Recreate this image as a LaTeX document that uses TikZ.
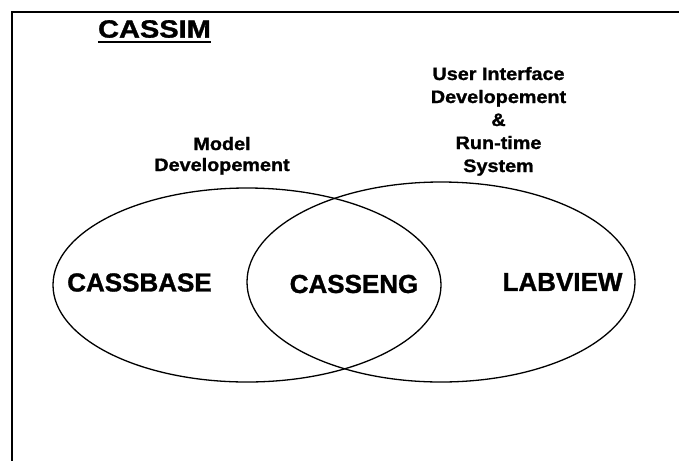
\documentclass[tikz,border=0pt]{standalone}
\usepackage{fontspec}
\setmainfont{Liberation Sans}
\newfontfamily\heavyfont[FakeBold=1.2]{Liberation Sans Bold}
\begin{document}
\begin{tikzpicture}[x=1pt,y=-1pt,
  ell/.style={draw, line width=1.3pt},
  big/.style={font=\heavyfont\fontsize{26}{30}\selectfont, inner sep=0pt},
  lbl/.style={font=\heavyfont\fontsize{18}{23}\selectfont, align=center, xscale=1.1, inner sep=0pt, anchor=base},
]
\useasboundingbox (0,0) rectangle (679,461);
\coordinate (tl) at (12,12);
\coordinate (tr) at (679,12);
\coordinate (bl) at (12,461);
\draw[line width=1.2pt] (tr) -- (tl) -- (bl);
\draw[ell] (247,285) ellipse [x radius=194, y radius=97];
\draw[ell] (441,282) ellipse [x radius=194, y radius=100];
\node[font=\heavyfont\fontsize{25}{30}\selectfont, xscale=1.16, inner sep=0pt] (cassim) at (154.5,29) {CASSIM};
\draw[line width=1.8pt] ([yshift=-4pt]cassim.south west) -- ([yshift=-4pt]cassim.south east);
\node[lbl, font=\heavyfont\fontsize{18}{21}\selectfont] (model) at (222,171) {Model\\Developement};
\node[lbl] (ui) at (498.5,172) {User Interface\\Developement\\\&\\Run-time\\System};
\node[big] (cassbase) at (139.5,282.5) {CASSBASE};
\node[big] (casseng) at (354,284) {CASSENG};
\node[big] (labview) at (562.5,282) {LABVIEW};
\end{tikzpicture}
\end{document}
